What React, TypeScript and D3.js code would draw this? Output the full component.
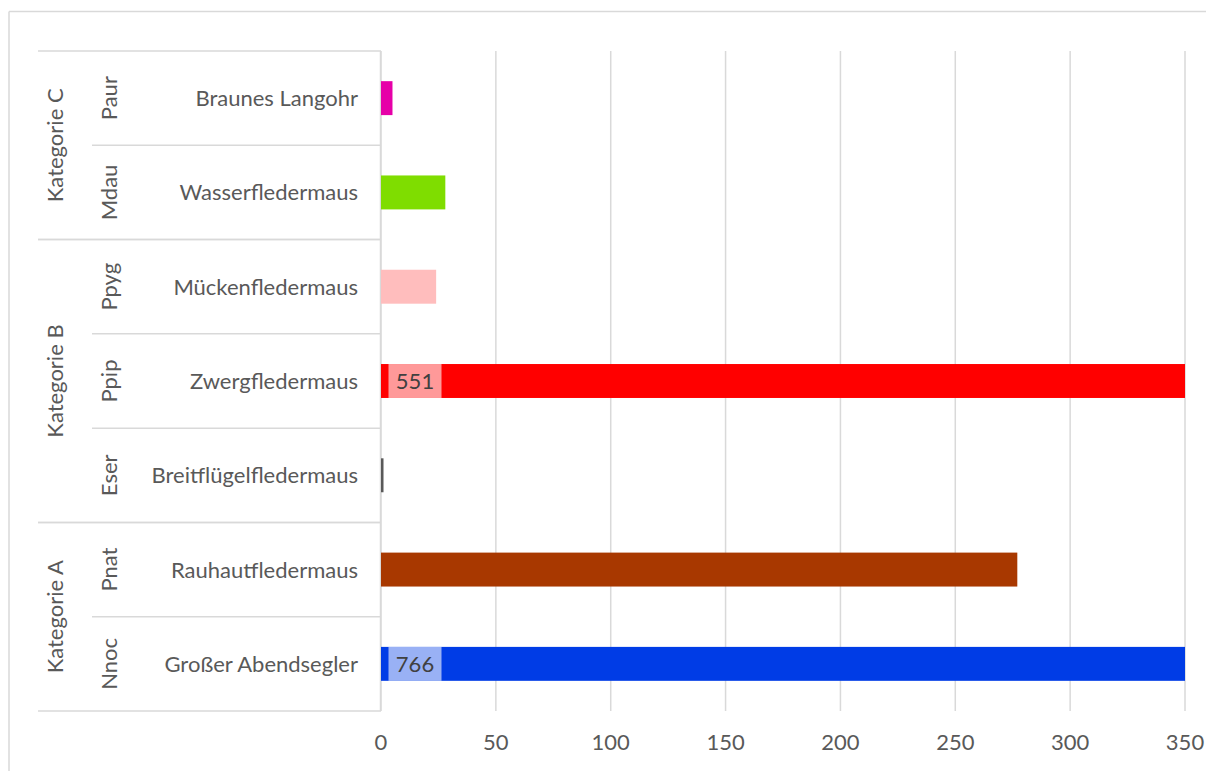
import React from "react";
import * as d3 from "d3";

const codes = ["Nnoc", "Pnat", "Eser", "Ppip", "Ppyg", "Mdau", "Paur"];
const names = [
  "Großer Abendsegler",
  "Rauhautfledermaus",
  "Breitflügelfledermaus",
  "Zwergfledermaus",
  "Mückenfledermaus",
  "Wasserfledermaus",
  "Braunes Langohr",
];
const groupOf = ["Kategorie A", "Kategorie A", "Kategorie B", "Kategorie B", "Kategorie B", "Kategorie C", "Kategorie C"];
const values = [766, 277, 1, 551, 24, 28, 5];
const colors = ["#003CE6", "#A83800", "#595959", "#FF0000", "#FFBDBD", "#7FDD00", "#E600A8"];
const xTicks = [0, 50, 100, 150, 200, 250, 300, 350];
const xMax = 350;

const W = 1206;
const H = 771;
const FONT = "Lato, 'Open Sans', sans-serif";
const FS = 22;
const TXT = "#595959";
const GRID = "#d9d9d9";

export default function App() {
  const left = 381;
  const right = 1185;
  const top = 51;
  const bottom = 711;
  const x = d3.scaleLinear().domain([0, xMax]).range([left, right]);
  const order = [...codes].reverse();
  const y = d3.scaleBand<string>().domain(order).range([top, bottom]).paddingInner(0.64).paddingOuter(0.32);
  const step = y.step();
  const rowTop = (c: string) => (y(c) as number) - step * y.paddingInner() / 2;

  const groups = Array.from(new Set(groupOf));
  const groupSpans = groups.map((g) => {
    const idx = codes.map((c, i) => i).filter((i) => groupOf[i] === g);
    const ys = idx.map((i) => rowTop(codes[i]));
    const y0 = Math.min(...ys);
    const y1 = Math.max(...ys) + step;
    return { g, y0, y1 };
  });

  return (
    <svg width={W} height={H} style={{ display: "block", position: "absolute", left: 0, top: 0 }}>
      <rect x={0} y={0} width={W} height={H} fill="#fff" />
      {/* outer border */}
      <line x1={9} y1={11.5} x2={W} y2={11.5} stroke={GRID} strokeWidth={1.5} />
      <line x1={9} y1={11.5} x2={9} y2={H} stroke={GRID} strokeWidth={1.5} />

      {/* gridlines */}
      {xTicks.map((t) => (
        <line key={t} x1={x(t)} x2={x(t)} y1={top} y2={bottom} stroke={GRID} strokeWidth={1.5} />
      ))}
      <line x1={left - 0.5} x2={left - 0.5} y1={top} y2={bottom} stroke={GRID} strokeWidth={1.5} />

      {/* category separators */}
      {groupSpans.map((s) => (
        <g key={s.g}>
          <line x1={38} x2={left} y1={s.y0} y2={s.y0} stroke={GRID} strokeWidth={1.5} />
          <line x1={38} x2={left} y1={s.y1} y2={s.y1} stroke={GRID} strokeWidth={1.5} />
          <text
            transform={`translate(${63},${(s.y0 + s.y1) / 2}) rotate(-90)`}
            textAnchor="middle"
            fontFamily={FONT}
            fontSize={FS}
            fill={TXT}
          >
            {s.g}
          </text>
        </g>
      ))}
      {codes.map((c, i) => {
        const rt = rowTop(c);
        const cy = rt + step / 2;
        const isGroupEdge = groupSpans.some((s) => Math.abs(s.y0 - rt) < 0.5);
        return (
          <g key={c}>
            {!isGroupEdge && <line x1={92} x2={left} y1={rt} y2={rt} stroke={GRID} strokeWidth={1.5} />}
            <text
              transform={`translate(${117},${cy}) rotate(-90)`}
              textAnchor="middle"
              fontFamily={FONT}
              fontSize={FS}
              fill={TXT}
            >
              {c}
            </text>
            <text x={358} y={cy + 8} textAnchor="end" fontFamily={FONT} fontSize={FS} fill={TXT}>
              {names[i]}
            </text>
          </g>
        );
      })}

      {/* bars */}
      {codes.map((c, i) => {
        const v = Math.min(values[i], xMax);
        const by = y(c) as number;
        const bh = y.bandwidth();
        const x0 = x(0);
        const w = Math.max(x(v) - x0, 2.5);
        const over = values[i] > xMax;
        return (
          <g key={c}>
            <rect x={x0} y={by} width={w} height={bh} fill={colors[i]} />
            {over && (
              <g>
                <rect x={x0 + 7.5} y={by} width={53} height={bh} fill="#fff" fillOpacity={0.6} />
                <text
                  x={x0 + 7.5 + 26.5}
                  y={by + bh / 2 + 8}
                  textAnchor="middle"
                  fontFamily={FONT}
                  fontSize={FS}
                  fill="#404040"
                >
                  {values[i]}
                </text>
              </g>
            )}
          </g>
        );
      })}

      {/* x tick labels */}
      {xTicks.map((t) => (
        <text key={t} x={x(t)} y={750} textAnchor="middle" fontFamily={FONT} fontSize={FS} fill={TXT}>
          {t}
        </text>
      ))}
    </svg>
  );
}
